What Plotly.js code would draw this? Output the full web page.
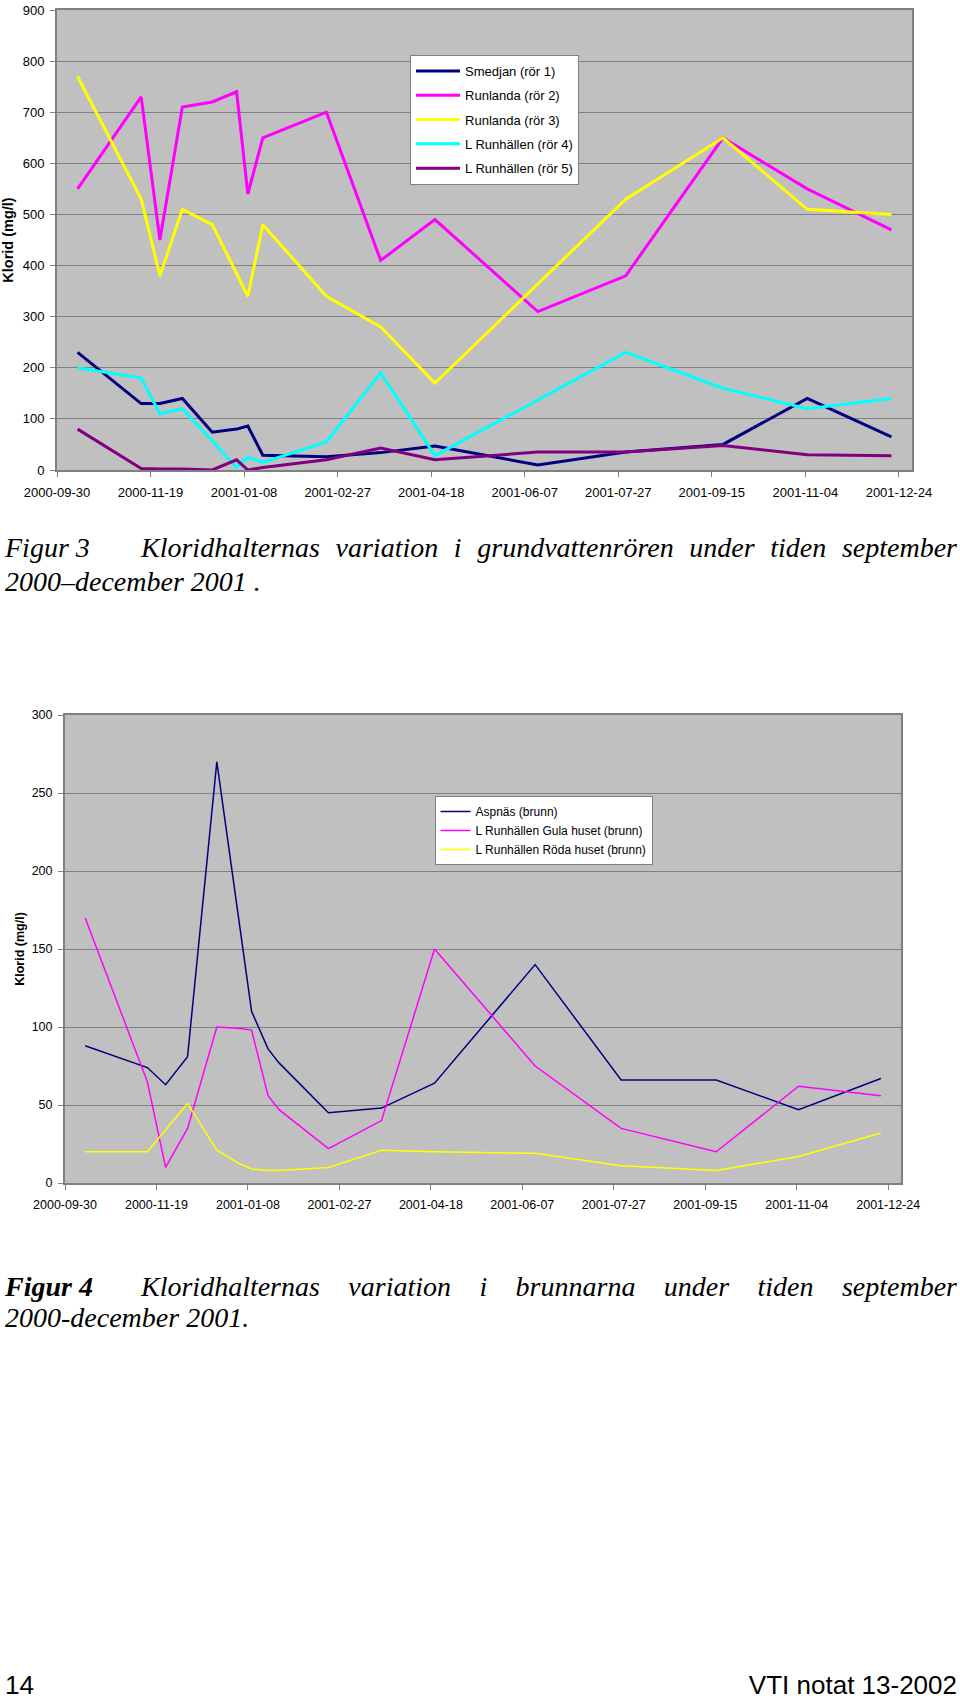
<!DOCTYPE html>
<html><head><meta charset="utf-8">
<script src="https://cdn.plot.ly/plotly-3.0.1.min.js"></script>
<style>
html,body{margin:0;padding:0;background:#fff;}
body{width:960px;height:1698px;position:relative;overflow:hidden;}
#chart1{position:absolute;left:0;top:0;width:960px;height:510px;}
#chart2{position:absolute;left:0;top:690px;width:960px;height:530px;}
.cap{position:absolute;left:5px;width:952px;font-family:"Liberation Serif","Times New Roman",serif;font-style:italic;font-size:28px;color:#000;}
.line{height:34px;line-height:34px;white-space:nowrap;}
.l1{display:flex;white-space:normal;}
.l1 .lab{width:136px;flex:none;}
.l1 .rest{flex:1;text-align:justify;text-align-last:justify;}
.foot{position:absolute;top:1670px;font-family:"Liberation Sans",Arial,sans-serif;font-size:26px;line-height:30px;color:#000;}
</style>
</head><body>
<div id="chart1"></div>
<div class="cap" style="top:531px;">
  <div class="line l1"><span class="lab">Figur 3</span><span class="rest">Kloridhalternas variation i grundvattenrören under tiden september</span></div>
  <div class="line">2000–december 2001 .</div>
</div>
<div id="chart2"></div>
<div class="cap" style="top:1271px;">
  <div class="line l1" style="height:31px;line-height:31px;"><span class="lab" style="font-weight:bold;">Figur 4</span><span class="rest">Kloridhalternas variation i brunnarna under tiden september</span></div>
  <div class="line" style="height:31px;line-height:31px;">2000-december 2001.</div>
</div>
<div class="foot" style="left:5px;">14</div>
<div class="foot" style="right:3px;">VTI notat 13-2002</div>
<script>
// ---------- DATA ----------
const tickLabels = ['2000-09-30','2000-11-19','2001-01-08','2001-02-27','2001-04-18','2001-06-07','2001-07-27','2001-09-15','2001-11-04','2001-12-24'];

// Figur 3 – grundvattenrör
const dates1 = ['2000-10-11','2000-11-14','2000-11-24','2000-12-06','2000-12-22','2001-01-04','2001-01-10','2001-01-18','2001-02-21','2001-03-22','2001-04-20','2001-06-14','2001-07-31','2001-09-21','2001-11-05','2001-12-20'];
const names1 = ['Smedjan (rör 1)','Runlanda (rör 2)','Runlanda (rör 3)','L Runhällen (rör 4)','L Runhällen (rör 5)'];
const smedjan1   = [230,130,130,140,74,80,86,29,26,34,47,10,35,50,140,65];
const runlanda2  = [550,730,450,710,720,740,540,650,700,410,490,310,380,650,550,470];
const runlanda3  = [770,530,380,510,480,null,340,480,340,280,170,null,530,650,510,500];
const runhallen4 = [200,180,110,120,null,5,25,15,55,190,28,null,230,160,120,140];
const runhallen5 = [80,3,2,2,0,20,0,5,20,43,20,35,35,48,30,28];

// Figur 4 – brunnar
const dates2 = ['2000-10-11','2000-11-14','2000-11-24','2000-12-06','2000-12-22','2001-01-04','2001-01-10','2001-01-19','2001-01-25','2001-02-21','2001-03-22','2001-04-20','2001-06-14','2001-07-31','2001-09-21','2001-11-05','2001-12-20'];
const names2 = ['Aspnäs (brunn)','L Runhällen Gula huset (brunn)','L Runhällen Röda huset (brunn)'];
const aspnas     = [88,74,63,81,270,null,110,86,77,45,48,64,140,66,66,47,67];
const gulaHuset  = [170,65,10,35,100,99,98,56,47,22,40,150,75,35,20,62,56];
const rodaHuset  = [20,20,null,51,21,12,9,8,8,10,21,20,19,11,8,17,32];

// ---------- STYLE ----------
const FONT = 'Liberation Sans, Arial, sans-serif';
const colors1 = ['#000080','#FF00FF','#FFFF00','#00FFFF','#800080'];
const colors2 = ['#000080','#FF00FF','#FFFF00'];

function xAxis(fs){
  return {
    type:'date', range:['2000-09-30','2001-12-31'],
    tickmode:'array', tickvals:tickLabels, ticktext:tickLabels,
    ticks:'outside', ticklen:5, tickcolor:'#808080', tickwidth:1,
    ticklabelstandoff:4,
    showgrid:false, zeroline:false,
    showline:true, linecolor:'#808080', linewidth:2, mirror:true,
    tickfont:{family:FONT,size:fs,color:'#000'}, fixedrange:true
  };
}
function yAxis(max, dtick, standoff, fs, tfs){
  return {
    range:[0,max], dtick:dtick, tick0:0,
    ticks:'outside', ticklen:5, tickcolor:'#808080', tickwidth:1,
    ticklabelstandoff:3,
    showgrid:true, gridcolor:'#808080', gridwidth:1, zeroline:false,
    showline:true, linecolor:'#808080', linewidth:2, mirror:true,
    tickfont:{family:FONT,size:fs,color:'#000'},
    title:{text:'<b>Klorid (mg/l)</b>', font:{family:FONT,size:tfs,color:'#000'}, standoff:standoff},
    automargin:false, fixedrange:true
  };
}

const series1 = [smedjan1, runlanda2, runlanda3, runhallen4, runhallen5];
const traces1 = series1.map((ys,i)=>({
  x:dates1, y:ys, type:'scatter', mode:'lines', name:names1[i],
  legendgroup:'g'+i, connectgaps:true,
  line:{color:colors1[i], width:3}
}));

const layout1 = {
  width:960, height:510,
  margin:{l:57, r:48, t:10, b:40},
  paper_bgcolor:'#ffffff', plot_bgcolor:'#C0C0C0',
  font:{family:FONT, size:13, color:'#000'},
  xaxis:xAxis(13), yaxis:yAxis(900,100,6,13,14.5),
  showlegend:true,
  legend:{x:0.4129, y:0.9022, xanchor:'left', yanchor:'top',
    bgcolor:'#ffffff', bordercolor:'#808080', borderwidth:1, itemwidth:44,
    font:{family:FONT,size:13,color:'#000'}, tracegroupgap:4.4, traceorder:'grouped'}
};

const series2 = [aspnas, gulaHuset, rodaHuset];
const traces2 = series2.map((ys,i)=>({
  x:dates2, y:ys, type:'scatter', mode:'lines', name:names2[i],
  connectgaps:true, line:{color:colors2[i], width:1.5}
}));

const layout2 = {
  width:960, height:530,
  margin:{l:65, r:59, t:25, b:37},
  paper_bgcolor:'#ffffff', plot_bgcolor:'#C0C0C0',
  font:{family:FONT, size:12.5, color:'#000'},
  xaxis:xAxis(12.5), yaxis:yAxis(300,50,4,12.5,12.5),
  showlegend:true,
  legend:{x:0.442, y:0.8269, xanchor:'left', yanchor:'top',
    bgcolor:'#ffffff', bordercolor:'#808080', borderwidth:1,
    font:{family:FONT,size:12,color:'#000'}, tracegroupgap:0}
};

Plotly.newPlot('chart1', traces1, layout1, {displayModeBar:false, staticPlot:true});
Plotly.newPlot('chart2', traces2, layout2, {displayModeBar:false, staticPlot:true});
</script>
</body></html>
